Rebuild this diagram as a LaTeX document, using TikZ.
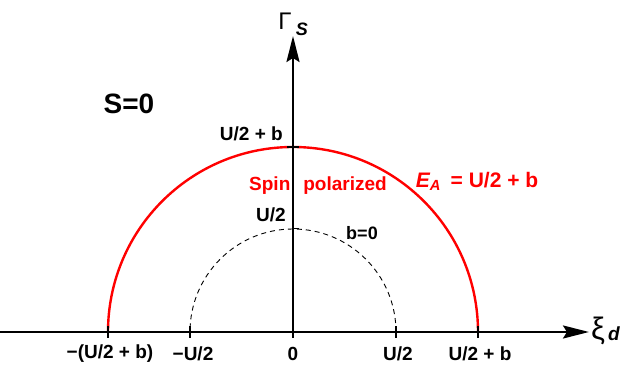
\documentclass[tikz,border=0pt]{standalone}
\usepackage{fontspec}
\setmainfont{Liberation Sans}
\usetikzlibrary{arrows.meta}
\definecolor{myred}{RGB}{255,0,0}
\tikzset{
  axis/.style={line width=2.4pt,-{Stealth[length=26pt,width=13pt,inset=4pt]}},
  tick/.style={line width=2pt},
  lbl/.style={font=\bfseries\fontsize{19}{22}\selectfont, inner sep=0pt},
  rlbl/.style={lbl, text=myred},
}
\begin{document}
\begin{tikzpicture}[x=1pt,y=1pt]
\useasboundingbox (0,0) rectangle (625,366);
% origin at (293,34)
\coordinate (O) at (293,34);
\coordinate (xs) at (0,34);
\coordinate (xe) at (589,34);
\coordinate (ye) at (293,330);
% circles
\draw[myred,line width=2.4pt] (478,34) arc[start angle=0,end angle=180,radius=185];
\draw[dashed,line width=0.9pt,dash pattern=on 5pt off 4pt] (396,34) arc[start angle=0,end angle=180,radius=103];
% axes
\draw[axis] (xs) -- (xe);
\draw[axis] (O) -- (ye);
% ticks
\foreach \x in {108,190,293,396,478} \draw[tick] (\x,28) -- (\x,40);
\draw[tick] (287,219) -- (299,219);
\draw[line width=1pt] (293,137) -- (299,137);
% axis labels
\node[inner sep=0pt,font=\fontsize{24}{26}\selectfont] (G) at (285,345) {Γ};
\node[inner sep=0pt,font=\bfseries\itshape\fontsize{18}{20}\selectfont] (Gs) at (302,337) {S};
\node[inner sep=0pt,font=\fontsize{31}{34}\selectfont] (X) at (598,35) {ξ};
\node[inner sep=0pt,font=\bfseries\itshape\fontsize{19}{20}\selectfont] (Xd) at (614,32) {d};
% tick labels
\node[lbl] (l1) at (110,12) {−(U/2 + b)};
\node[lbl] (l2) at (193,12) {−U/2};
\node[lbl] (l3) at (293,12) {0};
\node[lbl] (l4) at (398,12) {U/2};
\node[lbl] (l5) at (480,12) {U/2 + b};
\node[lbl,anchor=east] (t1) at (283,232) {U/2 + b};
\node[lbl,anchor=east] (t2) at (286,151) {U/2};
\node[inner sep=0pt,font=\bfseries\fontsize{18}{20}\selectfont] (b0) at (362,133) {b=0};
\node[rlbl] (sp) at (318,180) {Spin\hspace{13pt}polarized};
\node[rlbl] (ea) at (477,185) {\fontsize{21}{22}\selectfont\textit{E\textsubscript{A}}\hspace{4pt} = U/2 + b};
\node[inner sep=0pt,font=\bfseries\fontsize{28}{30}\selectfont] (s0) at (129,262) {S=0};
\end{tikzpicture}
\end{document}
